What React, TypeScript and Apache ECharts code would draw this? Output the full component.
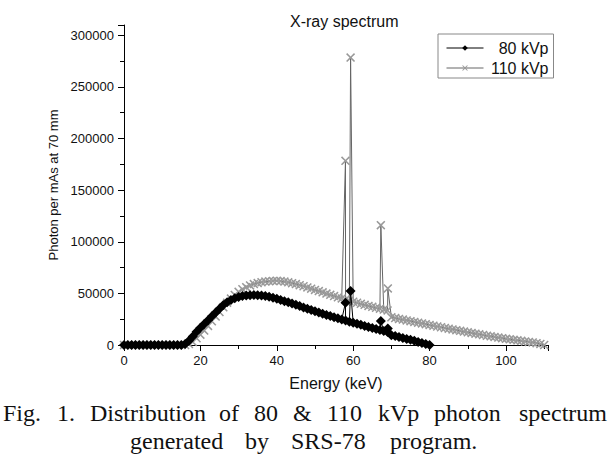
import React, { useEffect, useRef } from "react";
import * as echarts from "echarts";

// Continuum spectra, photons per mAs at 70 mm, index = energy in keV (1 keV steps)
const kvp80 = [
  0, 0, 0, 0, 0, 0, 0, 0, 0, 0, 0, 0, 0, 0, 0, 0,
  1000, 4000, 8300, 12900, 16600, 20300, 24000, 27800, 31500, 35200,
  38800, 41500, 43500, 45200, 46500, 47400, 48000, 48300, 48400, 48300,
  48000, 47500, 46800, 45800, 44700, 43600, 42500, 41300, 40100, 38900,
  37700, 36400, 35100, 33900, 32700, 31500, 30300, 29100, 28000, 26900,
  25800, 24700, 23700, 22600, 21600, 20600, 19600, 18500, 17500, 16500,
  15500, 14500, 13500, 12600, 9500, 8600, 7700, 6800, 5900, 5000,
  4000, 3000, 2000, 1000, 0,
];
const kvp110 = [
  0, 0, 0, 0, 0, 0, 0, 0, 0, 0, 0, 0, 0, 0, 0, 0, 0,
  1000, 3000, 6500, 10000, 14000, 18500, 23000, 27500, 32000, 36500,
  41000, 45000, 48500, 51500, 54000, 56000, 57700, 59000, 60000, 60800,
  61400, 61800, 62100, 62200, 61900, 61400, 60700, 59900, 59000, 58000,
  56900, 55800, 54600, 53400, 52200, 51000, 49800, 48600, 47400, 46200,
  45100, 44000, 42900, 41900, 40900, 39900, 38900, 37900, 37000, 36100,
  35200, 34300, 33500, 26800, 26100, 25300, 24600, 23800, 23100, 22400,
  21600, 20900, 20200, 19400, 18700, 17900, 17200, 16500, 15800, 15100,
  14400, 13700, 13000, 12300, 11700, 11000, 10300, 9700, 9000, 8400,
  7800, 7200, 6600, 6000, 5500, 5000, 4500, 4000, 3500, 3000,
  2500, 1800, 1000, 0,
];
// Characteristic lines (keV) and their peak heights
const lineKeV = [57.98, 59.32, 67.24, 69.07];
const peak80 = [41000, 52300, 23200, 16000];
const peak110 = [178400, 278400, 116100, 54800];

const seriesNames = ["80 kVp", "110 kVp"];
const title = "X-ray spectrum";
const xName = "Energy (keV)";
const yName = "Photon per mAs at 70 mm";
const captionLine1 = ["Fig.", "1.", "Distribution", "of", "80", "&", "110", "kVp", "photon", "spectrum"];
const captionLine2 = ["generated", "by", "SRS-78", "program."];
const caption1X = [3, 57, 90, 219, 254, 293, 327, 378, 434, 519];
const caption2X = [130, 245, 291, 390];

function buildSeries(values: number[], peaks: number[]) {
  const pts: number[][] = values.map((v, i) => [i, v]);
  peaks.forEach((p, k) => pts.push([lineKeV[k], p]));
  pts.sort((a, b) => a[0] - b[0]);
  return pts;
}

const crossSymbol =
  "path://M0,1.2L1.2,0L5,3.8L8.8,0L10,1.2L6.2,5L10,8.8L8.8,10L5,6.2L1.2,10L0,8.8L3.8,5Z";

export default function App() {
  const ref = useRef<HTMLDivElement>(null);
  useEffect(() => {
    if (!ref.current) return;
    const chart = echarts.init(ref.current, undefined, { renderer: "svg" });
    const sans = "Liberation Sans, Arial, sans-serif";
    const serif = "Liberation Serif, Times New Roman, serif";
    const graphics: any[] = [];
    captionLine1.forEach((w, i) =>
      graphics.push({
        type: "text",
        left: caption1X[i],
        top: 401,
        style: { text: w, font: `24px ${serif}`, fill: "#111" },
      })
    );
    captionLine2.forEach((w, i) =>
      graphics.push({
        type: "text",
        left: caption2X[i],
        top: 429,
        style: { text: w, font: `24px ${serif}`, fill: "#111" },
      })
    );
    chart.setOption({
      animation: false,
      backgroundColor: "#fff",
      title: {
        text: title,
        left: 285,
        top: 8,
        textStyle: { fontFamily: sans, fontSize: 16, fontWeight: "normal", color: "#111" },
      },
      legend: {
        orient: "vertical",
        left: 438,
        top: 34,
        padding: [6, 5, 2, 8],
        itemGap: 4,
        itemWidth: 37,
        itemHeight: 7,
        itemTextGap: 5,
        borderColor: "#888",
        borderWidth: 1,
        lineStyle: { width: 1 },
        data: seriesNames,
        formatter: (n: string) => `{t|${n}}`,
        textStyle: {
          fontFamily: sans,
          fontSize: 16,
          color: "#111",
          rich: { t: { width: 60, align: "right", fontSize: 16, fontFamily: sans, lineHeight: 16 } },
        },
      },
      grid: { left: 124, right: 62, top: 25, bottom: 125 },
      xAxis: {
        type: "value",
        min: 0,
        max: 111,
        interval: 20,
        name: xName,
        nameLocation: "middle",
        nameGap: 30,
        nameTextStyle: { fontFamily: sans, fontSize: 16, color: "#111" },
        axisLine: { lineStyle: { color: "#000", width: 1 } },
        axisTick: { show: true, inside: false, length: 6, lineStyle: { color: "#000" } },
        minorTick: { show: true, splitNumber: 2, length: 4, lineStyle: { color: "#000" } },
        splitLine: { show: false },
        axisLabel: {
          fontFamily: sans,
          fontSize: 13,
          color: "#111",
          margin: 9,
          showMaxLabel: false,
          formatter: (v: number) => (v % 20 === 0 ? String(v) : ""),
        },
      },
      yAxis: {
        type: "value",
        min: 0,
        max: 310000,
        interval: 50000,
        name: yName,
        nameLocation: "middle",
        nameGap: 63,
        nameRotate: 90,
        nameTextStyle: { fontFamily: sans, fontSize: 13, color: "#111" },
        axisLine: { show: true, lineStyle: { color: "#000", width: 1 } },
        axisTick: { show: true, inside: false, length: 6, lineStyle: { color: "#000" } },
        minorTick: { show: true, splitNumber: 2, length: 4, lineStyle: { color: "#000" } },
        splitLine: { show: false },
        axisLabel: {
          fontFamily: sans,
          fontSize: 13,
          color: "#111",
          margin: 10,
          showMaxLabel: false,
          formatter: (v: number) => (v % 50000 === 0 ? String(v) : ""),
        },
      },
      series: [
        {
          name: seriesNames[1],
          type: "line",
          data: buildSeries(kvp110, peak110),
          symbol: crossSymbol,
          symbolSize: 9,
          showAllSymbol: true,
          lineStyle: { color: "#666", width: 1 },
          itemStyle: { color: "#999" },
          z: 2,
        },
        {
          name: seriesNames[0],
          type: "line",
          data: buildSeries(kvp80, peak80),
          symbol: "diamond",
          symbolSize: 10,
          showAllSymbol: true,
          lineStyle: { color: "#000", width: 1 },
          itemStyle: { color: "#000" },
          z: 3,
        },
      ],
      graphic: graphics,
    });
    return () => chart.dispose();
  }, []);
  return (
    <div
      ref={ref}
      style={{ position: "fixed", left: 0, top: 0, width: 610, height: 470, background: "#fff" }}
    />
  );
}
